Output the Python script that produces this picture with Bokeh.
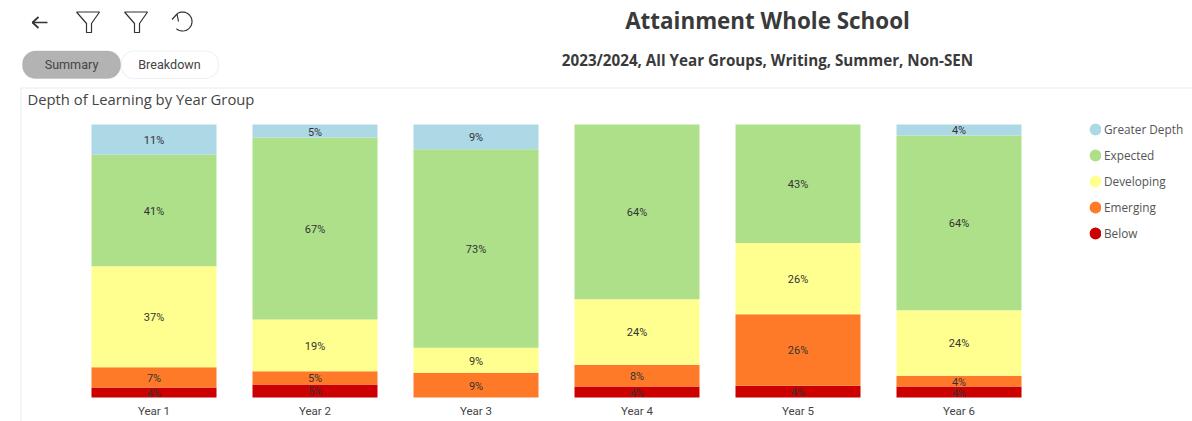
import numpy as np
from bokeh.core.properties import value
from bokeh.embed import file_html
from bokeh.models import (BoxAnnotation, ColumnDataSource, FixedTicker, Legend, LegendItem,
                          Range1d)
from bokeh.plotting import figure
from bokeh.resources import INLINE

years = ["Year 1", "Year 2", "Year 3", "Year 4", "Year 5", "Year 6"]
levels = ["Below", "Emerging", "Developing", "Expected", "Greater Depth"]
below = [3.7, 4.8, 0, 4, 4.3, 4]
emerging = [7.4, 4.8, 9.1, 8, 26.2, 4]
developing = [37.0, 19.0, 9.1, 24, 26.1, 24]
expected = [40.8, 66.6, 72.7, 64, 43.4, 64]
greater_depth = [11.1, 4.8, 9.1, 0, 0, 4]
colours = ["#CC0000", "#FF7A28", "#FFFF8F", "#AEE08A", "#ADD8E6"]

series = [below, emerging, developing, expected, greater_depth]

WIDTH, HEIGHT = 1192, 421
FIRST_CENTRE, PITCH, BAR_PX = 153.5, 161, 125
TOP_PX, BOTTOM_PX = 124, 397
PX_PER_PCT = (BOTTOM_PX - TOP_PX) / 100

positions = list(range(len(years)))

p = figure(width=WIDTH, height=HEIGHT,
           x_range=Range1d(-FIRST_CENTRE / PITCH, (WIDTH - FIRST_CENTRE) / PITCH),
           y_range=Range1d(-(HEIGHT - BOTTOM_PX) / PX_PER_PCT, BOTTOM_PX / PX_PER_PCT),
           output_backend="svg", toolbar_location=None,
           min_border=0, min_border_left=0, min_border_right=0,
           min_border_top=0, min_border_bottom=0)
p.outline_line_color = None
p.grid.visible = False
p.yaxis.visible = False

# A second pair of ranges in page pixels for the page furniture around the chart
p.extra_x_ranges["px"] = Range1d(0, WIDTH)
p.extra_y_ranges["px"] = Range1d(HEIGHT, 0)

# Category axis sits on the zero line inside the frame
xaxis = p.xaxis[0]
xaxis.fixed_location = 0
xaxis.ticker = FixedTicker(ticks=positions)
xaxis.major_label_overrides = dict(zip(positions, years))
xaxis.axis_line_color = None
xaxis.major_tick_line_color = None
xaxis.minor_tick_line_color = None
xaxis.major_label_text_font = "Roboto"
xaxis.major_label_text_font_size = "11.5px"
xaxis.major_label_text_color = "#444444"
xaxis.major_label_standoff = 0

# Stacked columns, one segment per attainment level
source = ColumnDataSource({"pos": positions, **{lv: s for lv, s in zip(levels, series)}})
p.vbar_stack(levels, x="pos", width=BAR_PX / PITCH, source=source, color=colours,
             line_color=None)

# Percentage labels centred in every non-empty segment
lab_x, lab_y, lab_t = [], [], []
base = np.zeros(len(years))
for s in series:
    arr = np.array(s, dtype=float)
    for i, v in enumerate(arr):
        if v > 0:
            lab_x.append(positions[i])
            lab_y.append(base[i] + v / 2)
            lab_t.append(f"{round(v)}%")
    base += arr
p.text(x=lab_x, y=lab_y, text=lab_t, text_align="center", text_baseline="middle",
       y_offset=1, text_font=value("Roboto"), text_font_size="11px", text_color="#333333")

# Legend with round markers, top entry first
items = []
for lv, c in reversed(list(zip(levels, colours))):
    r = p.scatter(x=[0], y=[float("nan")], marker="circle", size=5,
                  fill_color=c, line_color=c, line_width=7)
    items.append(LegendItem(label=lv, renderers=[r]))
legend = Legend(items=items, location=(1089, HEIGHT - 241), orientation="vertical",
                background_fill_alpha=0, border_line_color=None, margin=0, padding=0,
                glyph_width=12, glyph_height=14, label_height=14, label_standoff=3,
                spacing=10, label_text_font="Open Sans", label_text_font_size="11.8px",
                label_text_color="#555555")
p.add_layout(legend, "center")


def text(x, y, t, size, color="#333333", font="Open Sans", style="normal", align="left"):
    p.text(x=[x], y=[y], text=[t], text_font=value(font), text_font_size=size,
           text_color=color, text_font_style=style, text_align=align,
           text_baseline="middle", x_range_name="px", y_range_name="px")


def box(l, r, t, b, fill=None, line="#c8c8c8", radius=0):
    p.add_layout(BoxAnnotation(left=l, right=r, top=t, bottom=b,
                               x_range_name="px", y_range_name="px",
                               fill_color=fill, fill_alpha=1 if fill else 0,
                               line_color=line, line_width=1.2 if radius else 1,
                               border_radius=radius, level="underlay"))


def stroke(xs, ys, width=1.2):
    p.line(x=list(xs), y=list(ys), line_color="#333333", line_width=width,
           x_range_name="px", y_range_name="px")


# Page header
text(767, 20, "Attainment Whole School", "22.4px", style="bold", align="center", color="#3a3a3a")
text(767, 59, "2023/2024, All Year Groups, Writing, Summer, Non-SEN", "15.2px",
     style="bold", align="center", color="#3a3a3a")

# Toolbar icons: back arrow, two filters, undo
stroke([47, 32], [22, 22], width=1.7)
stroke([38, 32, 38], [16.5, 22, 27.5], width=1.7)
for dx in (0, 48):
    stroke([76 + dx, 99 + dx, 91 + dx, 91 + dx, 86 + dx, 86 + dx, 76 + dx],
           [11.5, 11.5, 23, 32, 32, 23, 11.5])
angles = np.radians(np.linspace(-125, 130, 30))
stroke(182 + 9.5 * np.cos(angles), 21 + 9.5 * np.sin(angles))
stroke([171.5, 176.5, 178], [19, 13.5, 21])

# Summary / Breakdown toggle
box(120.5, 218, 50.5, 78, fill="#ffffff", line="#cfcfcf", radius=13)
box(22, 120, 50.5, 78, fill="#b3b3b3", line="#aaaaaa", radius=13)
text(71, 64, "Summary", "12.6px", color="#444444", font="Roboto", align="center")
text(169, 64, "Breakdown", "12.6px", color="#444444", font="Roboto", align="center")

# Visual container border and its heading
box(20.5, 1300, 87.5, 500, line="#b8b8b8")
text(27, 98, "Depth of Learning by Year Group", "14.8px", color="#444444")

open("out.html", "w").write(file_html(p, INLINE))
